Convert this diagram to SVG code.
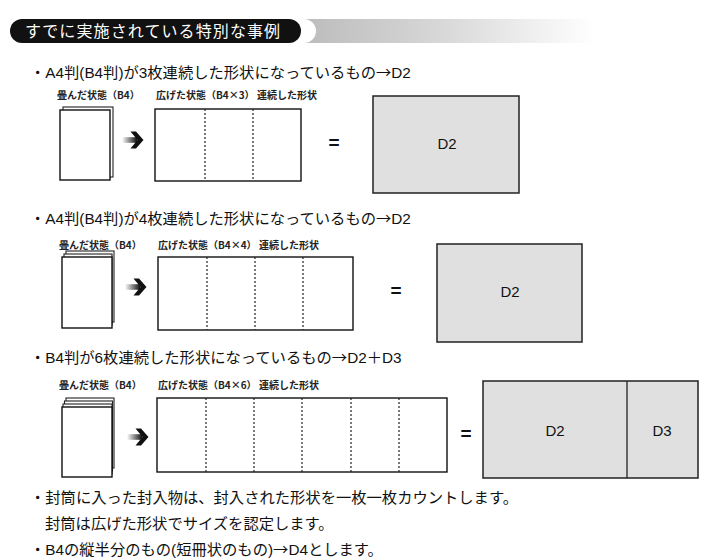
<svg xmlns="http://www.w3.org/2000/svg" width="710" height="560" viewBox="0 0 710 560">
<defs>
<linearGradient id="hdrGrad" x1="0" y1="0" x2="1" y2="0">
<stop offset="0" stop-color="#bcbcbc"/>
<stop offset="0.45" stop-color="#d6d6d6"/>
<stop offset="1" stop-color="#ffffff"/>
</linearGradient>
<linearGradient id="shaftGrad" x1="0" y1="0" x2="1" y2="0">
<stop offset="0" stop-color="#ffffff"/>
<stop offset="1" stop-color="#111111"/>
</linearGradient>
<g id="arrowIcon">
<rect x="-13" y="-2.8" width="15" height="5.6" fill="url(#shaftGrad)"/>
<polygon points="-4.5,-8.5 1,-8.5 8.5,0 1,8.5 -4.5,8.5 2.5,0" fill="#111"/>
</g>
</defs>
<style>
text{font-family:"Liberation Sans","Noto Sans CJK JP",sans-serif;fill:#111}
.cjk{font-family:"Noto Sans CJK JP",sans-serif}
.hdr{fill:#fff;font-size:16px;letter-spacing:1.1px}
.bul{font-size:15.3px}
.lbl{font-family:"Noto Sans CJK JP",sans-serif;font-size:10px;font-weight:bold;fill:#222}
.page{fill:#fff;stroke:#222;stroke-width:1.1}
.sheet{fill:#fff;stroke:#111;stroke-width:1.4}
.fold{stroke:#222;stroke-width:1.2;stroke-dasharray:2 2}
.dbox{fill:#e0e0e0;stroke:#222;stroke-width:1.5}
.dtxt{font-size:15px;text-anchor:middle}
.eq{font-size:19px;font-weight:bold;text-anchor:middle}
</style>
<rect width="710" height="560" fill="#fff"/>

<g id="header">
<path d="M304,19 A12,12 0 0 1 304,43 L595,43 L595,19 Z" fill="url(#hdrGrad)"/>
<rect x="10" y="19" width="291" height="24" rx="12" fill="#111"/>
<text class="hdr" x="25" y="37">すでに実施されている特別な事例</text>
</g>

<g id="case1">
<text class="bul" x="30" y="78">・A4判(B4判)が3枚連続した形状になっているもの<tspan class="cjk">→</tspan>D2</text>
<text class="lbl" x="57" y="99">畳んだ状態（B4）</text>
<text class="lbl" x="156" y="99">広げた状態（B4×3） 連続した形状</text>
<g id="case1-folded">
<rect class="page" x="63" y="107" width="50" height="70"/>
<rect class="sheet" x="60" y="110" width="50" height="70"/>
</g>
<use href="#arrowIcon" transform="translate(135,140)"/>
<g id="case1-open">
<rect class="sheet" x="155" y="109" width="146" height="72"/>
<line class="fold" x1="205" y1="109" x2="205" y2="181"/>
<line class="fold" x1="253" y1="109" x2="253" y2="181"/>
</g>
<text class="eq" x="334" y="149">=</text>
<g id="case1-result">
<rect class="dbox" x="373" y="96" width="146" height="97"/>
<text class="dtxt" x="447" y="149">D2</text>
</g>
</g>

<g id="case2">
<text class="bul" x="30" y="224">・A4判(B4判)が4枚連続した形状になっているもの<tspan class="cjk">→</tspan>D2</text>
<text class="lbl" x="59" y="249">畳んだ状態（B4）</text>
<text class="lbl" x="158" y="249">広げた状態（B4×4） 連続した形状</text>
<g id="case2-folded">
<rect class="page" x="66" y="251" width="48" height="71"/>
<rect class="page" x="64" y="254" width="48" height="71"/>
<rect class="sheet" x="62" y="257" width="50" height="71"/>
</g>
<use href="#arrowIcon" transform="translate(138,287)"/>
<g id="case2-open">
<rect class="sheet" x="158" y="257" width="195" height="73"/>
<line class="fold" x1="207" y1="257" x2="207" y2="330"/>
<line class="fold" x1="255" y1="257" x2="255" y2="330"/>
<line class="fold" x1="303" y1="257" x2="303" y2="330"/>
</g>
<text class="eq" x="396" y="297">=</text>
<g id="case2-result">
<rect class="dbox" x="437" y="244" width="145" height="98"/>
<text class="dtxt" x="510" y="297">D2</text>
</g>
</g>

<g id="case3">
<text class="bul" x="30" y="363">・B4判が6枚連続した形状になっているもの<tspan class="cjk">→</tspan>D2＋D3</text>
<text class="lbl" x="59" y="389">畳んだ状態（B4）</text>
<text class="lbl" x="158" y="389">広げた状態（B4×6） 連続した形状</text>
<g id="case3-folded">
<rect class="page" x="66" y="398" width="48" height="70"/>
<rect class="page" x="64.5" y="401" width="48" height="70"/>
<rect class="page" x="63" y="404" width="49" height="70"/>
<rect class="sheet" x="62" y="407" width="50" height="70"/>
</g>
<use href="#arrowIcon" transform="translate(140,437)"/>
<g id="case3-open">
<rect class="sheet" x="157" y="398" width="290" height="74"/>
<line class="fold" x1="206" y1="398" x2="206" y2="472"/>
<line class="fold" x1="254" y1="398" x2="254" y2="472"/>
<line class="fold" x1="302" y1="398" x2="302" y2="472"/>
<line class="fold" x1="351" y1="398" x2="351" y2="472"/>
<line class="fold" x1="399" y1="398" x2="399" y2="472"/>
</g>
<text class="eq" x="466" y="440">=</text>
<g id="case3-result">
<rect class="dbox" x="483" y="381" width="215" height="97"/>
<line x1="627" y1="381" x2="627" y2="478" stroke="#222" stroke-width="1.3"/>
<text class="dtxt" x="555" y="436">D2</text>
<text class="dtxt" x="662" y="436">D3</text>
</g>
</g>

<g id="notes">
<text class="bul" x="30" y="503">・封筒に入った封入物は、封入された形状を一枚一枚カウントします。</text>
<text class="bul" x="45" y="529">封筒は広げた形状でサイズを認定します。</text>
<text class="bul" x="30" y="555">・B4の縦半分のもの(短冊状のもの)<tspan class="cjk">→</tspan>D4とします。</text>
</g>
</svg>
